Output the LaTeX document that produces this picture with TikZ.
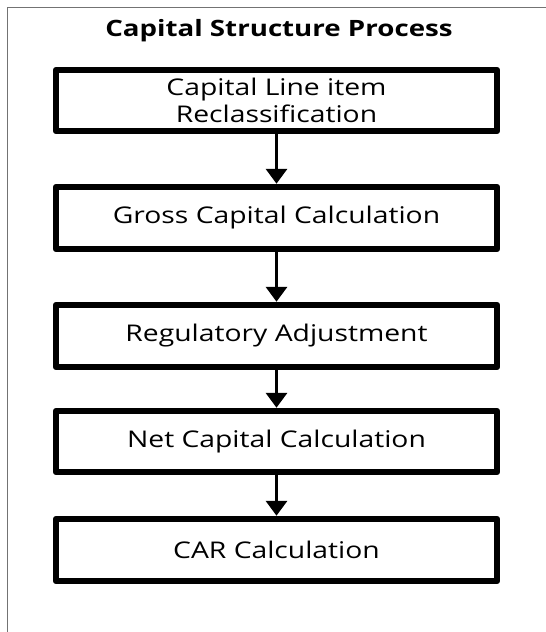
\documentclass[tikz,border=0pt]{standalone}
\usepackage{fontspec}
\setmainfont{Open Sans}[FakeStretch=1.23]
\usetikzlibrary{arrows.meta}
\begin{document}
\begin{tikzpicture}[x=1pt,y=-1pt,
  stepbox/.style={draw, line width=6.5pt, line join=round, minimum width=441pt, inner sep=0pt, font=\fontsize{23}{27}\selectfont, align=center},
  flow/.style={-{Triangle[width=21pt,length=15pt]}, line width=3.5pt}]
\useasboundingbox (0,0) rectangle (546,632);
\draw[line width=1pt, color=black!55] (7,632) -- (7,7) -- (546,7);
\node[font=\bfseries\fontsize{22.5}{26}\selectfont] (title) at (279,31) {Capital Structure Process};
\node[stepbox, minimum height=61pt] (b1) at (276.5,100.5) {Capital Line item\\Reclassification};
\node[stepbox, minimum height=62pt] (b2) at (276.5,218) {Gross Capital Calculation};
\node[stepbox, minimum height=62pt] (b3) at (276.5,336) {Regulatory Adjustment};
\node[stepbox, minimum height=61pt] (b4) at (276.5,441.5) {Net Capital Calculation};
\node[stepbox, minimum height=62pt] (b5) at (276.5,550) {CAR Calculation};
\draw[flow] (b1.south) -- (b2.north);
\draw[flow] (b2.south) -- (b3.north);
\draw[flow] (b3.south) -- (b4.north);
\draw[flow] (b4.south) -- (b5.north);
\end{tikzpicture}
\end{document}
